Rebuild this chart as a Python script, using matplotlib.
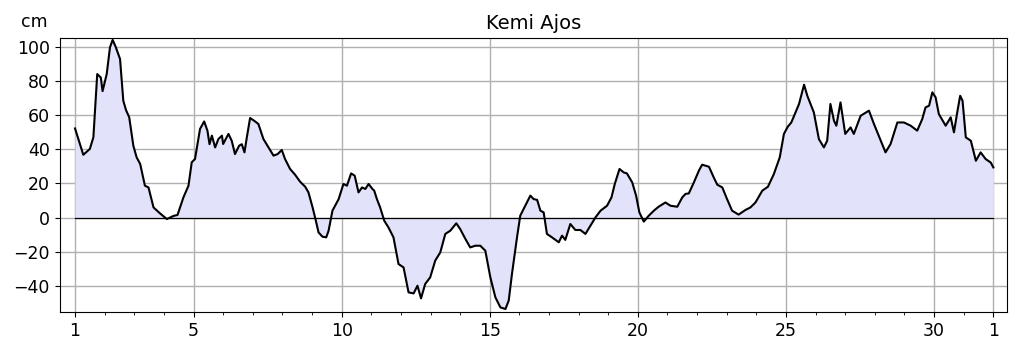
import matplotlib
matplotlib.use("Agg")
import matplotlib.pyplot as plt
import numpy as np

# sea level readings, Kemi Ajos (day of month, cm)
day = [1.0, 1.28, 1.5, 1.62, 1.75, 1.87, 1.93, 2.07, 2.18, 2.27, 2.38, 2.52,
       2.63, 2.72, 2.83, 2.97, 3.08, 3.2, 3.36, 3.48, 3.65, 3.87, 4.1, 4.32,
       4.46, 4.66, 4.83, 4.94, 5.05, 5.22, 5.36, 5.47, 5.54, 5.62, 5.73, 5.84,
       5.96, 6.0, 6.18, 6.29, 6.4, 6.54, 6.63, 6.72, 6.8, 6.91, 7.08, 7.19,
       7.36, 7.53, 7.7, 7.84, 7.98, 8.09, 8.26, 8.43, 8.6, 8.77, 8.88, 9.02,
       9.13, 9.22, 9.35, 9.48, 9.56, 9.69, 9.9, 10.06, 10.18, 10.32, 10.44,
       10.57, 10.69, 10.8, 10.91, 11.04, 11.1, 11.19, 11.3, 11.44, 11.58,
       11.75, 11.92, 12.09, 12.26, 12.43, 12.56, 12.68, 12.82, 12.99, 13.16,
       13.33, 13.5, 13.67, 13.87, 14.0, 14.18, 14.34, 14.51, 14.68, 14.85,
       15.02, 15.19, 15.36, 15.53, 15.64, 15.75, 15.92, 16.03, 16.17, 16.37,
       16.48, 16.6, 16.71, 16.82, 16.93, 17.1, 17.33, 17.44, 17.55, 17.72,
       17.89, 18.06, 18.23, 18.4, 18.57, 18.74, 18.96, 19.11, 19.22, 19.38,
       19.52, 19.63, 19.81, 19.94, 20.05, 20.2, 20.37, 20.54, 20.7, 20.93,
       21.1, 21.33, 21.5, 21.61, 21.72, 21.89, 22.06, 22.17, 22.4, 22.56,
       22.68, 22.85, 23.01, 23.18, 23.4, 23.63, 23.8, 23.97, 24.2, 24.39,
       24.59, 24.79, 24.93, 25.06, 25.18, 25.32, 25.44, 25.61, 25.72, 25.83,
       25.94, 26.11, 26.28, 26.39, 26.5, 26.62, 26.7, 26.84, 27.0, 27.18,
       27.29, 27.52, 27.8, 27.97, 28.2, 28.36, 28.53, 28.76, 28.98, 29.21,
       29.43, 29.6, 29.71, 29.83, 29.94, 30.05, 30.16, 30.39, 30.56, 30.67,
       30.79, 30.88, 30.96, 31.07, 31.24, 31.41, 31.57, 31.74, 31.91, 32.0]
level = [52.2, 36.8, 40.2, 47.0, 84.0, 82.0, 74.0, 84.0, 99.6, 104.0, 99.6,
         92.8, 68.4, 63.0, 58.7, 42.0, 35.3, 31.4, 18.7, 17.7, 6.0, 2.5, -0.8,
         1.0, 1.6, 11.9, 18.7, 32.4, 34.3, 51.9, 56.3, 50.9, 43.0, 48.0, 41.1,
         46.0, 48.0, 43.1, 49.0, 45.0, 37.2, 42.1, 43.0, 38.2, 47.0, 58.3,
         56.3, 54.8, 46.0, 41.1, 36.3, 37.2, 39.6, 34.3, 28.5, 25.1, 21.0,
         18.1, 14.8, 6.0, -1.8, -8.6, -11.1, -11.5, -7.6, 4.1, 10.9, 19.7,
         18.7, 25.9, 24.6, 14.8, 17.7, 16.8, 19.7, 16.8, 15.8, 10.9, 6.0,
         -1.8, -5.7, -11.5, -27.1, -29.1, -43.7, -44.3, -39.8, -47.2, -38.8,
         -34.9, -25.1, -20.3, -9.5, -7.6, -3.3, -6.6, -12.5, -17.4, -16.4,
         -16.4, -19.3, -34.9, -46.6, -52.5, -53.4, -48.5, -32.9, -11.5, 1.2,
         6.0, 12.9, 10.9, 10.4, 4.1, 3.1, -9.5, -11.5, -14.4, -10.5, -13.0,
         -3.7, -7.2, -7.2, -9.5, -4.7, 0.2, 4.1, 7.0, 11.9, 19.7, 28.5, 26.5,
         25.9, 20.6, 12.9, 3.1, -2.3, 1.2, 4.1, 6.4, 8.9, 7.0, 6.4, 11.9, 13.9,
         14.2, 20.6, 27.5, 31.0, 29.8, 23.6, 19.3, 17.7, 10.9, 4.1, 1.8, 4.5,
         6.0, 8.9, 15.8, 18.1, 25.5, 35.3, 49.0, 53.2, 55.7, 61.6, 66.5, 77.8,
         71.3, 66.5, 61.6, 46.0, 41.1, 45.0, 66.5, 56.7, 53.8, 67.4, 49.0,
         52.8, 49.0, 59.6, 62.6, 54.8, 45.0, 38.2, 43.1, 55.7, 55.7, 53.8,
         50.9, 57.7, 64.5, 65.5, 73.3, 70.4, 60.6, 53.8, 58.7, 49.9, 62.6,
         71.3, 68.4, 47.0, 45.0, 33.3, 38.2, 34.3, 32.3, 29.4]

tick_pos = [1, 5, 10, 15, 20, 25, 30, 32]
tick_labels = ["1", "5", "10", "15", "20", "25", "30", "1"]

day = np.array(day)
level = np.array(level)

fig = plt.figure(figsize=(10.19, 3.52), dpi=100)
ax = fig.add_axes([0.0585, 0.113, 0.930, 0.780])

ax.fill_between(day, level, 0, color="#e2e2fa", linewidth=0)
ax.plot([day[0], day[-1]], [0, 0], color="black", linewidth=0.9)
ax.plot(day, level, color="black", linewidth=1.5)

ax.set_xlim(0.48, 32.47)
ax.set_ylim(-55.3, 105.3)
ax.set_xticks(tick_pos)
ax.set_xticklabels(tick_labels)
ax.set_xticks(np.arange(1, 33), minor=True)
ax.set_yticks([-40, -20, 0, 20, 40, 60, 80, 100])
ax.tick_params(labelsize=12.5)
ax.grid(True, color="#b0b0b0", linewidth=1)
ax.set_axisbelow(True)
ax.set_title("Kemi Ajos", fontsize=14)
ax.text(-0.013, 1.025, "cm", transform=ax.transAxes, ha="right", va="bottom", fontsize=12.5)

fig.savefig("out.png", dpi=100)
